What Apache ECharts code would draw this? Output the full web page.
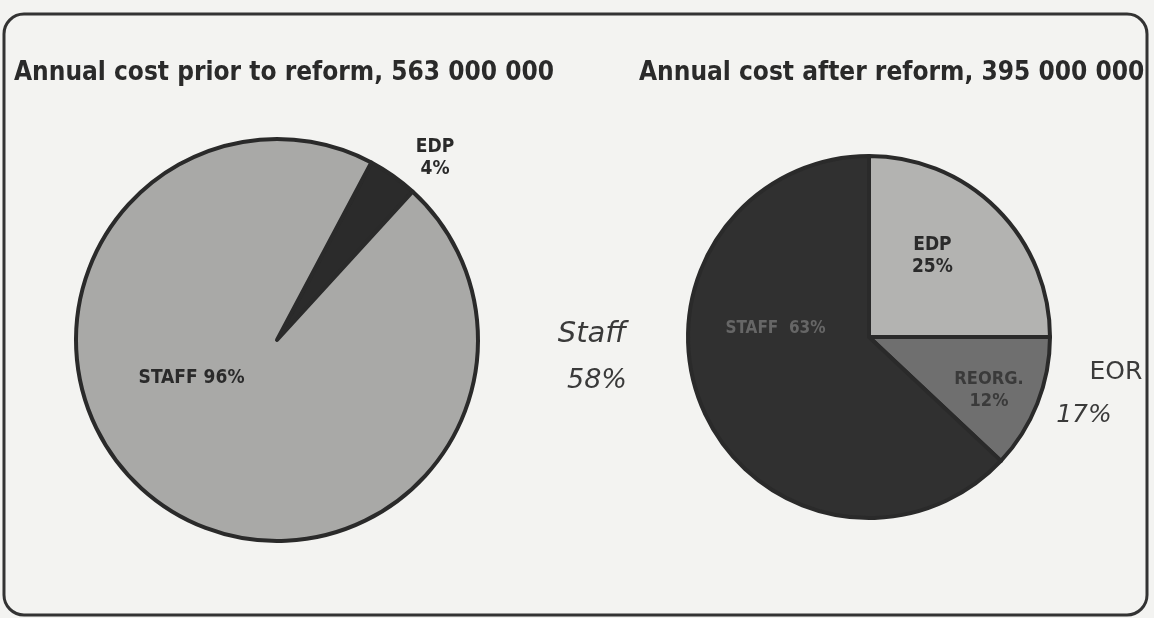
<!DOCTYPE html>
<html>
<head>
<meta charset="utf-8">
<script src="https://cdn.jsdelivr.net/npm/echarts@6/dist/echarts.min.js"></script>
<style>
html,body{margin:0;padding:0;background:#f3f3f1;}
#chart{width:1154px;height:618px;}
</style>
</head>
<body>
<div id="chart"></div>
<script>
// ---- data ----
const titles = ['Annual cost prior to reform, 563 000 000', 'Annual cost after reform, 395 000 000'];
const beforeCategories = ['EDP', 'STAFF'];
const beforeValues = [4, 96];
const afterCategories = ['EDP', 'REORG.', 'STAFF'];
const afterValues = [25, 12, 63];
const notes = ['Staff', '58%', 'EOR', '17%'];

// ---- styles ----
const ink = '#2a2a2a';
const beforeColors = ['#2b2b2b', '#a9a9a7'];
const afterColors = ['#b3b3b1', '#6f6f6f', '#303030'];
const titleFont = '"DejaVu Sans Condensed", "Liberation Sans", sans-serif';

const chart = echarts.init(document.getElementById('chart'), null, {renderer: 'canvas'});

function buildData(cats, vals, colors, styles) {
  return cats.map((c, i) => ({
    name: c,
    value: vals[i],
    itemStyle: {color: colors[i]},
    label: styles[i]
  }));
}

const beforeLabelStyles = [
  {formatter: '{b}\n{c}%', color: ink, fontSize: 19, fontWeight: 'bold', lineHeight: 22, align: 'center'},
  {formatter: '{b} {c}%', color: ink, fontSize: 19, fontWeight: 'bold', align: 'center'}
];
const afterLabelStyles = [
  {formatter: '{b}\n{c}%', color: ink, fontSize: 19, fontWeight: 'bold', lineHeight: 22, align: 'center'},
  {formatter: '{b}\n{c}%', color: '#3a3a3a', fontSize: 18, fontWeight: 'bold', lineHeight: 22, align: 'center'},
  {formatter: '{b}  {c}%', color: '#666', fontSize: 17, fontWeight: 'bold', align: 'center'}
];

// label anchor positions as fractions of the chart size
const beforeLabelPos = [[0.377, 0.255], [0.166, 0.612]];
const afterLabelPos = [[0.808, 0.415], [0.857, 0.632], [0.672, 0.531]];

function layoutFrom(pos) {
  return function (params) {
    const W = chart.getWidth(), H = chart.getHeight();
    const p = pos[params.dataIndex];
    return {x: p[0] * W, y: p[1] * H, align: 'center', verticalAlign: 'middle'};
  };
}

const option = {
  backgroundColor: '#f3f3f1',
  animation: false,
  title: [
    {text: titles[0], left: 9, top: 55,
     textStyle: {fontFamily: titleFont, fontSize: 26, fontWeight: 'bold', color: ink}},
    {text: titles[1], left: 634, top: 55,
     textStyle: {fontFamily: titleFont, fontSize: 26, fontWeight: 'bold', color: ink}}
  ],
  graphic: [
    {type: 'rect', shape: {x: 4, y: 14, width: 1143, height: 601, r: 20},
     style: {fill: 'none', stroke: '#333', lineWidth: 3}, silent: true},
    {type: 'text', x: 592, y: 334, style: {text: notes[0], font: 'italic 29px "DejaVu Sans"', fill: '#3a3a3a', align: 'center', verticalAlign: 'middle'}},
    {type: 'text', x: 597, y: 381, style: {text: notes[1], font: 'italic 27px "DejaVu Sans"', fill: '#3a3a3a', align: 'center', verticalAlign: 'middle'}},
    {type: 'text', x: 1116, y: 372, style: {text: notes[2], font: '25px "DejaVu Sans"', fill: '#3a3a3a', align: 'center', verticalAlign: 'middle'}},
    {type: 'text', x: 1084, y: 415, style: {text: notes[3], font: 'italic 25px "DejaVu Sans"', fill: '#3a3a3a', align: 'center', verticalAlign: 'middle'}}
  ],
  series: [
    {
      type: 'pie',
      center: [277, 340],
      radius: [0, 201],
      startAngle: 62,
      clockwise: true,
      itemStyle: {borderColor: ink, borderWidth: 4},
      label: {show: true, position: 'inside', fontFamily: titleFont},
      labelLine: {show: false},
      labelLayout: layoutFrom(beforeLabelPos),
      emphasis: {disabled: true},
      data: buildData(beforeCategories, beforeValues, beforeColors, beforeLabelStyles)
    },
    {
      type: 'pie',
      center: [869, 337],
      radius: [0, 181],
      startAngle: 90,
      clockwise: true,
      itemStyle: {borderColor: ink, borderWidth: 4},
      label: {show: true, position: 'inside', fontFamily: titleFont},
      labelLine: {show: false},
      labelLayout: layoutFrom(afterLabelPos),
      emphasis: {disabled: true},
      data: buildData(afterCategories, afterValues, afterColors, afterLabelStyles)
    }
  ]
};
chart.setOption(option);
</script>
</body>
</html>
